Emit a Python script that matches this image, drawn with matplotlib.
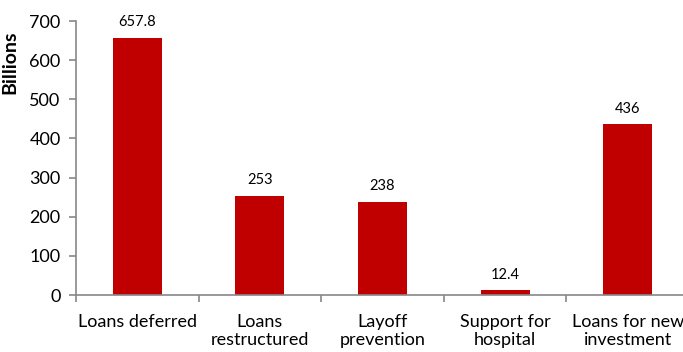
import matplotlib
matplotlib.use("Agg")
import matplotlib.pyplot as plt
from matplotlib.ticker import FixedLocator, NullFormatter

categories = ["Loans deferred", "Loans\nrestructured", "Layoff\nprevention", "Support for\nhospital", "Loans for new\ninvestment"]
values = [657.8, 253, 238, 12.4, 436]
value_labels = ["657.8", "253", "238", "12.4", "436"]
yticks = [0, 100, 200, 300, 400, 500, 600, 700]

plt.rcParams['font.family'] = ['Lato', 'DejaVu Sans']

fig = plt.figure(figsize=(6.83, 3.52), dpi=100)
W, H = 683, 352
ax = fig.add_axes([76/W, 57/H, (689-76)/W, 274/H])

x = list(range(len(categories)))
ax.bar(x, values, width=0.4, color="#C00000", zorder=2)
for xi, v, lab in zip(x, values, value_labels):
    ax.text(xi, v + 22, lab, ha="center", va="bottom", fontsize=10.5, color="#000000")

ax.set_xlim(-0.5, 4.5)
ax.set_ylim(0, 700)
ax.set_yticks(yticks)
ax.set_yticklabels([str(t) for t in yticks], fontsize=13)
ax.set_xticks(x)
ax.set_xticklabels(categories, fontsize=13, linespacing=1.15)
ax.tick_params(axis='x', which='major', length=0, pad=14)
ax.xaxis.set_minor_locator(FixedLocator([-0.5, 0.5, 1.5, 2.5, 3.5, 4.5]))
ax.xaxis.set_minor_formatter(NullFormatter())
ax.tick_params(axis='x', which='minor', length=5, color="#888888", width=1.2)
ax.tick_params(axis='y', length=5, color="#888888", width=1.2, pad=6)

for s in ["top", "right"]:
    ax.spines[s].set_visible(False)
for s in ["left", "bottom"]:
    ax.spines[s].set_color("#888888")
    ax.spines[s].set_linewidth(1.2)

fig.text(1/W, 1 - 62/H, "Billions", rotation=90, ha="left", va="center", fontsize=14, fontweight="bold")

fig.savefig("out.png", dpi=100)
